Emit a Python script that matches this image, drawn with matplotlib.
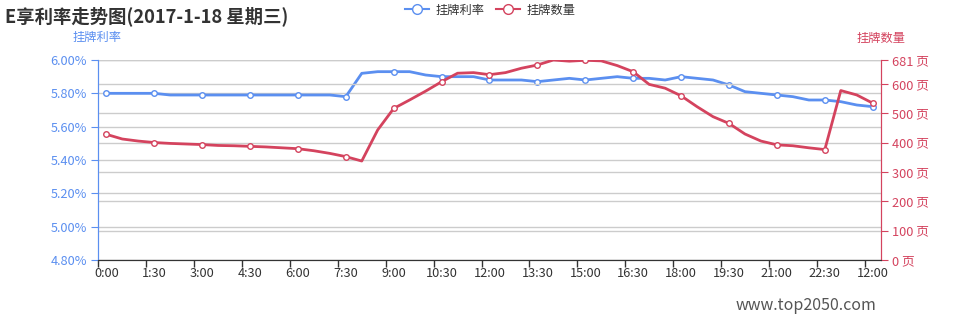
import matplotlib
matplotlib.use("Agg")
import matplotlib.pyplot as plt
from matplotlib.lines import Line2D
from matplotlib.ticker import FuncFormatter

plt.rcParams['font.family'] = ['Noto Sans CJK SC', 'DejaVu Sans']

# category labels (every half hour, last one shown as 12:00)
times = ['0:00', '0:30', '1:00', '1:30', '2:00', '2:30', '3:00', '3:30',
         '4:00', '4:30', '5:00', '5:30', '6:00', '6:30', '7:00', '7:30',
         '8:00', '8:30', '9:00', '9:30', '10:00', '10:30', '11:00', '11:30',
         '12:00', '12:30', '13:00', '13:30', '14:00', '14:30', '15:00', '15:30',
         '16:00', '16:30', '17:00', '17:30', '18:00', '18:30', '19:00', '19:30',
         '20:00', '20:30', '21:00', '21:30', '22:00', '22:30', '23:00', '23:30',
         '12:00']

rate = [5.80, 5.80, 5.80, 5.80, 5.79, 5.79, 5.79, 5.79, 5.79, 5.79,
        5.79, 5.79, 5.79, 5.79, 5.79, 5.78, 5.92, 5.93, 5.93, 5.93,
        5.91, 5.90, 5.90, 5.90, 5.88, 5.88, 5.88, 5.87, 5.88, 5.89,
        5.88, 5.89, 5.90, 5.89, 5.89, 5.88, 5.90, 5.89, 5.88, 5.85,
        5.81, 5.80, 5.79, 5.78, 5.76, 5.76, 5.75, 5.73, 5.72]

count = [428, 412, 405, 400, 397, 395, 393, 390, 389, 387,
         385, 382, 379, 372, 363, 352, 337, 443, 516, 545,
         575, 607, 636, 638, 631, 638, 653, 664, 681, 677,
         680, 678, 662, 641, 598, 585, 559, 522, 488, 465,
         429, 405, 392, 389, 382, 376, 577, 562, 534]

rate_ticks = [4.80, 5.00, 5.20, 5.40, 5.60, 5.80, 6.00]
count_ticks = [0, 100, 200, 300, 400, 500, 600, 681]

blue = '#5b8ff0'
red = '#d4435e'
dark = '#333333'
grid_c = '#cccccc'

fig = plt.figure(figsize=(9.78, 3.2), dpi=100)
ax = fig.add_axes([98.3 / 978, 60 / 320, 782.4 / 978, 200 / 320])
ax2 = ax.twinx()

x = list(range(len(times)))
ax.plot(x, rate, color=blue, lw=2, marker='o', ms=4, mfc='white',
        mec=blue, mew=1, markevery=3, zorder=3)
ax2.plot(x, count, color=red, lw=2, marker='o', ms=4, mfc='white',
         mec=red, mew=1, markevery=3, zorder=3)

ax.set_xlim(-0.5, len(times) - 0.5)
ax.set_ylim(4.80, 6.00)
ax2.set_ylim(0, 681)

# labels at band centres, ticks at band boundaries
ax.set_xticks(x[::3])
ax.set_xticklabels(times[::3])
ax.set_xticks([i - 0.5 for i in x[::3]], minor=True)
ax.tick_params(axis='x', which='major', length=0, pad=5, labelsize=9.2, labelcolor=dark)
ax.tick_params(axis='x', which='minor', length=5, color=dark, width=1)

ax.set_yticks(rate_ticks)
ax.yaxis.set_major_formatter(FuncFormatter(lambda v, p: '%.2f%%' % v))
ax.tick_params(axis='y', length=5, color=blue, labelcolor=blue, labelsize=9.2, pad=3)

ax2.set_yticks(count_ticks)
ax2.yaxis.set_major_formatter(FuncFormatter(lambda v, p: '%d 页' % v))
ax2.tick_params(axis='y', length=5, color=red, labelcolor=red, labelsize=9.2, pad=3)

ax.grid(axis='y', color=grid_c, lw=1)
ax2.grid(axis='y', color=grid_c, lw=1)
ax.set_axisbelow(True)
ax2.set_axisbelow(True)

for a in (ax, ax2):
    a.spines['top'].set_visible(False)
    a.spines['left'].set_color(blue)
    a.spines['right'].set_color(red)
    a.spines['bottom'].set_color(dark)

fig.text(5 / 978, 1 - 16 / 320, 'E享利率走势图(2017-1-18 星期三)', fontsize=13.2,
         fontweight='bold', color=dark, va='center', ha='left')
fig.text(97.5 / 978, 1 - 37 / 320, '挂牌利率', fontsize=8.8, color=blue,
         ha='center', va='center')
fig.text(881 / 978, 1 - 38 / 320, '挂牌数量', fontsize=8.8, color=red,
         ha='center', va='center')
fig.text(806 / 978, 1 - 305 / 320, 'www.top2050.com', fontsize=11.5,
         color='#555555', ha='center', va='center')

handles = [Line2D([], [], color=blue, lw=1.5, marker='o', ms=7, mfc='white', mec=blue),
           Line2D([], [], color=red, lw=1.5, marker='o', ms=7, mfc='white', mec=red)]
fig.legend(handles, ['挂牌利率', '挂牌数量'], loc='center',
           bbox_to_anchor=(490 / 978, 1 - 10 / 320), ncol=2, frameon=False,
           fontsize=8.8, handlelength=2.0, handletextpad=0.5, columnspacing=0.9,
           labelcolor=dark)

fig.savefig('out.png', dpi=100)
